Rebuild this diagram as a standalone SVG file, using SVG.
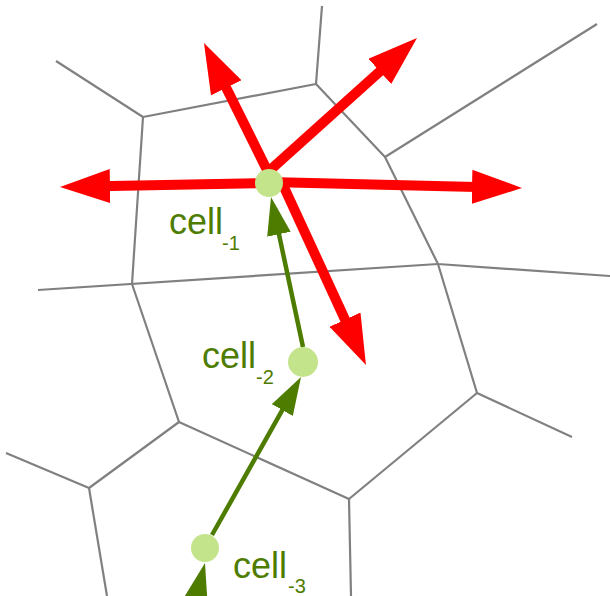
<svg xmlns="http://www.w3.org/2000/svg" width="610" height="596" viewBox="0 0 610 596">
<style>
.mesh{fill:none;stroke:#808080;stroke-width:2.2;stroke-linejoin:round}
.red{fill:none;stroke:#ff0000;stroke-width:10}
.grn{fill:none;stroke:#4e7c00;stroke-width:4.5}
.dot{fill:#c4e48c}
.lbl{font-family:"Liberation Sans",Arial,sans-serif;font-size:36px;fill:#4e7c00}
.sub{font-size:20px}
</style>
<defs>
<marker id="rh" markerUnits="userSpaceOnUse" markerWidth="50" markerHeight="34" viewBox="0 0 50 34" refX="25" refY="17" orient="auto">
<path d="M0,0 L50,17 L0,34 z" fill="#ff0000"/>
</marker>
<marker id="gh" markerUnits="userSpaceOnUse" markerWidth="38" markerHeight="24" viewBox="0 0 38 24" refX="28" refY="12" orient="auto">
<path d="M0,0 L38,12 L0,24 z" fill="#4e7c00"/>
</marker>
</defs>
<g id="mesh">
<polyline class="mesh" points="56,61 143,117 316,84 322,6"/>
<polyline class="mesh" points="316,84 385,157 597,24"/>
<polyline class="mesh" points="385,157 438,264 610,276"/>
<polyline class="mesh" points="38,290 438,264"/>
<polyline class="mesh" points="143,117 132,284 179,422 349,499 351,596"/>
<polyline class="mesh" points="438,264 477,393 572,437"/>
<polyline class="mesh" points="477,393 349,499"/>
<polyline class="mesh" points="179,422 89,488 6,453"/>
<polyline class="mesh" points="89,488 107,596"/>
</g>
<g id="connectors">
<line class="red" x1="269" y1="183" x2="85" y2="186.5" marker-end="url(#rh)"/>
<line class="red" x1="269" y1="182" x2="497" y2="187.4" marker-end="url(#rh)"/>
<line class="red" x1="268" y1="172" x2="215.1" y2="65.4" marker-end="url(#rh)"/>
<line class="red" x1="268" y1="172" x2="398.4" y2="54.7" marker-end="url(#rh)"/>
<line class="red" x1="283" y1="185" x2="355.5" y2="342.3" marker-end="url(#rh)"/>
<line class="grn" x1="303" y1="347" x2="273.1" y2="206.8" marker-end="url(#gh)"/>
<line class="grn" x1="212" y1="535" x2="296.1" y2="385.7" marker-end="url(#gh)"/>
<line class="grn" x1="186" y1="640" x2="202.6" y2="572.7" marker-end="url(#gh)"/>
</g>
<g id="cell-1">
<circle class="dot" cx="269" cy="183" r="14"/>
<text class="lbl" x="169" y="234">cell<tspan class="sub" x="222" y="250">-1</tspan></text>
</g>
<g id="cell-2">
<circle class="dot" cx="303" cy="362" r="15"/>
<text class="lbl" x="202" y="368">cell<tspan class="sub" x="256" y="384">-2</tspan></text>
</g>
<g id="cell-3">
<circle class="dot" cx="205" cy="548" r="14"/>
<text class="lbl" x="233" y="578">cell<tspan class="sub" x="288" y="593">-3</tspan></text>
</g>
</svg>
